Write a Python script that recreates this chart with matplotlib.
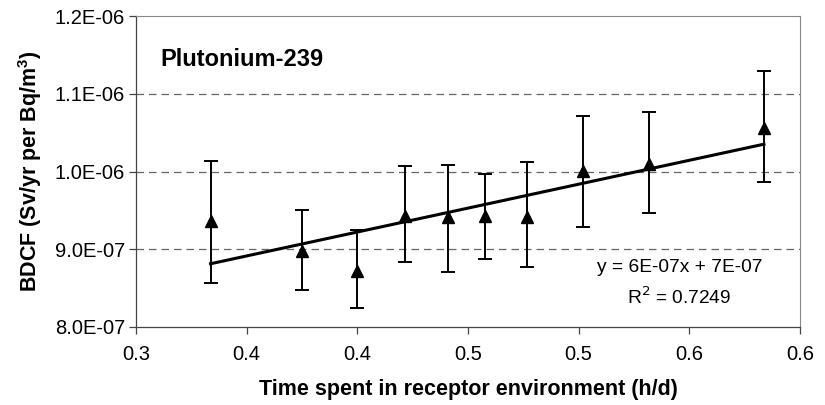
import matplotlib
matplotlib.use("Agg")
import matplotlib.pyplot as plt
import numpy as np

plt.rcParams['font.family'] = ['Liberation Sans', 'DejaVu Sans']

# Data (x in h/d, y in 1e-7 Sv/yr per Bq/m3)
x_vals = [0.3337, 0.3749, 0.4000, 0.4217, 0.4408, 0.4578, 0.4765, 0.5020, 0.5316, 0.5837]
y_vals = [9.36, 8.98, 8.72, 9.43, 9.42, 9.43, 9.42, 10.01, 10.10, 10.56]
err_low = [0.79, 0.50, 0.48, 0.59, 0.71, 0.555, 0.65, 0.73, 0.64, 0.69]
err_high = [0.78, 0.53, 0.53, 0.645, 0.67, 0.54, 0.70, 0.71, 0.66, 0.73]

x_ticks = [0.30, 0.35, 0.40, 0.45, 0.50, 0.55, 0.60]
x_tick_labels = ["0.3", "0.4", "0.4", "0.5", "0.5", "0.6", "0.6"]
y_ticks = [8.0, 9.0, 10.0, 11.0, 12.0]
y_tick_labels = ["8.0E-07", "9.0E-07", "1.0E-06", "1.1E-06", "1.2E-06"]

title_text = "Plutonium-239"
eq_text = "y = 6E-07x + 7E-07"
r2_text = "R$^2$ = 0.7249"

fig = plt.figure(figsize=(8.25, 4.05), dpi=100)
ax = fig.add_axes([136/825, 1-327/405, (800-136)/825, (327-16)/405])

x = np.array(x_vals)
y = np.array(y_vals)

for yy in [9.0, 10.0, 11.0]:
    ax.axhline(yy, color='#666666', lw=0.9, ls=(0, (6, 4)), zorder=1)

slope, intercept = np.polyfit(x, y, 1)
xl = np.array([x.min(), x.max()])
ax.plot(xl, slope*xl + intercept, color='black', lw=2.2, zorder=3)

ax.errorbar(x, y, yerr=[err_low, err_high], fmt='^', color='black', ms=8.5,
            ecolor='black', elinewidth=1.4, capsize=4.7, capthick=1.4, zorder=4)

ax.set_xlim(0.30, 0.60)
ax.set_ylim(8.0, 12.0)
ax.set_xticks(x_ticks)
ax.set_xticklabels(x_tick_labels)
ax.set_yticks(y_ticks)
ax.set_yticklabels(y_tick_labels)
ax.tick_params(axis='both', labelsize=14.5, direction='out', length=5, width=0.9, color='#444444')
ax.tick_params(axis='x', pad=8)
ax.tick_params(axis='y', pad=3)

for s in ['left', 'bottom']:
    ax.spines[s].set_color('#444444')
    ax.spines[s].set_linewidth(0.9)
for s in ['top', 'right']:
    ax.spines[s].set_color('#888888')
    ax.spines[s].set_linewidth(0.8)

ax.set_xlabel("Time spent in receptor environment (h/d)", fontsize=15.5, fontweight='bold', labelpad=11)
ax.set_ylabel("BDCF (Sv/yr per Bq/m$\\mathregular{^3}$)", fontsize=15.5, fontweight='bold', labelpad=8)

ax.text(0.0362, 0.86, title_text, transform=ax.transAxes, fontsize=17, fontweight='bold', va='center', ha='left')
ax.text(0.8185, 0.19, eq_text, transform=ax.transAxes, fontsize=13.8, ha='center', va='center')
ax.text(0.8185, 0.097, r2_text, transform=ax.transAxes, fontsize=13.8, ha='center', va='center')

fig.savefig("out.png", dpi=100)
